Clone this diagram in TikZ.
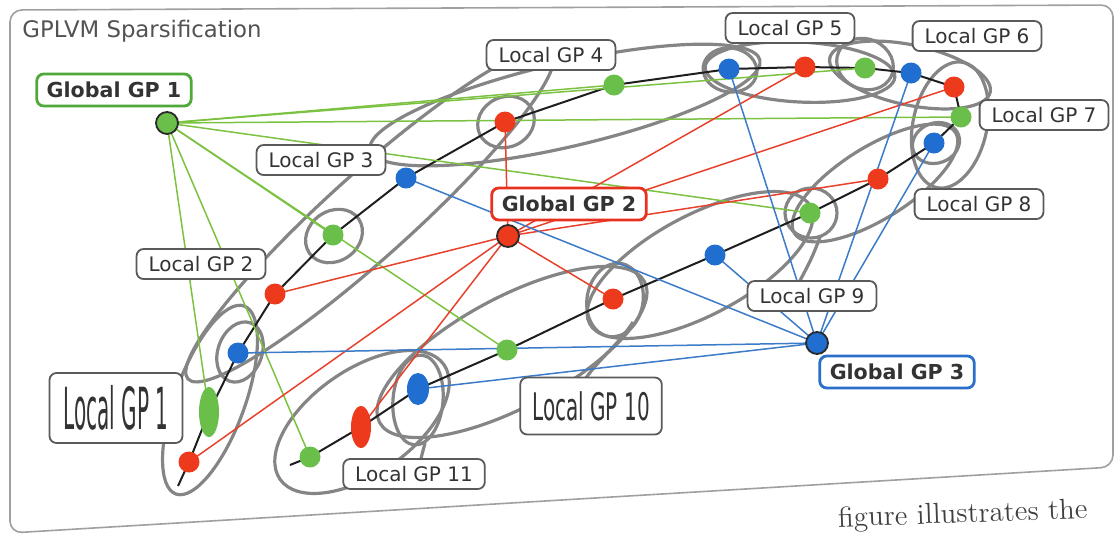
\documentclass[tikz,border=0pt]{standalone}
\usepackage{fontspec}
\usepackage{graphicx}
\newfontfamily\dejavu{DejaVu Sans}
\usetikzlibrary{shapes.geometric}
\definecolor{ngreen}{HTML}{6ABF4B}
\definecolor{nred}{HTML}{EE3A1C}
\definecolor{nblue}{HTML}{1F6ED0}
\definecolor{egreen}{HTML}{7CC242}
\definecolor{ered}{HTML}{E8412C}
\definecolor{eblue}{HTML}{3B7BC8}
\definecolor{ellgray}{HTML}{858585}
\definecolor{lblborder}{HTML}{5A5A5A}
\definecolor{txt}{HTML}{333333}
\definecolor{framec}{HTML}{A0A0A0}
\definecolor{chainc}{HTML}{1E1E1E}
\definecolor{gbgreen}{HTML}{4FA83A}
\definecolor{gbred}{HTML}{E8321E}
\definecolor{gbblue}{HTML}{2A6FC9}
\definecolor{darkring}{HTML}{2A2A2A}
\begin{document}
\begin{tikzpicture}[x=0.5pt,y=-0.5pt,
  lgp/.style={draw=ellgray, line width=1.6pt},
  lbl/.style={draw=lblborder, line width=0.9pt, fill=white, rounded corners=3.5pt,
    font=\dejavu\fontsize{10}{12}\selectfont, text=txt, inner xsep=6pt, inner ysep=0pt,
    minimum height=15pt},
  glbl/.style={lbl, line width=1.4pt, font=\dejavu\bfseries\fontsize{10.3}{12}\selectfont,
    minimum height=16pt, inner xsep=5pt},
  chainline/.style={draw=chainc, line width=1pt},
  eg/.style={draw=egreen, line width=0.75pt},
  er/.style={draw=ered, line width=0.75pt},
  eb/.style={draw=eblue, line width=0.75pt},
  dot/.style={circle, inner sep=0pt, minimum size=10.5pt},
  edot/.style={ellipse, inner sep=0pt},
  gdot/.style={circle, inner sep=0pt, minimum size=11pt, draw=darkring, line width=0.9pt}
]
\useasboundingbox (0,0) rectangle (1117,537);
% frame
\draw[framec, line width=0.8pt, rounded corners=6pt] (10,10) -- (1113,5) -- (1113,467) -- (10,533) -- cycle;
\node[anchor=base west, font=\dejavu\fontsize{11.4}{13}\selectfont, text=black!68, inner sep=0pt] (title) at (22,37) {GPLVM Sparsification};
\node[anchor=base west, font=\fontsize{14.5}{17}\selectfont, text=black!75, inner sep=0pt, rotate=2] (pagetext) at (838,527) {figure illustrates the};

% chain coordinates
\coordinate (s0) at (178,486);
\coordinate (r1) at (189,462);
\coordinate (g1) at (209,412);
\coordinate (b1) at (238,353);
\coordinate (r2) at (275,294);
\coordinate (g2) at (333,235);
\coordinate (b2) at (406,178);
\coordinate (r3) at (505,122);
\coordinate (g3) at (614,85);
\coordinate (b3) at (729,69);
\coordinate (r4) at (805,67);
\coordinate (g4) at (865,68);
\coordinate (b4) at (911,73);
\coordinate (r5) at (954,87);
\coordinate (g5) at (961,117);
\coordinate (b5) at (934,143);
\coordinate (r6) at (878,179);
\coordinate (g6) at (810,213);
\coordinate (b6) at (715,255);
\coordinate (r7) at (613,299);
\coordinate (g7) at (507,350);
\coordinate (b7) at (418,389);
\coordinate (r8) at (361,427);
\coordinate (g8) at (310,457);
\coordinate (s1) at (290,465);
\coordinate (GA) at (167,123);
\coordinate (GB) at (508,236);
\coordinate (GC) at (817,343);

% gray local GP regions
\draw[lgp, rotate around={42:(370,215)}] (370,215) ellipse [x radius=245, y radius=42];
\draw[lgp, rotate around={70:(210,400)}] (210,400) ellipse [x radius=100, y radius=35];
\draw[lgp, rotate around={70:(240,352)}] (240,352) ellipse [x radius=31, y radius=22];
\draw[lgp, rotate around={35:(334,236)}] (334,236) ellipse [x radius=30, y radius=25];
\draw[lgp, rotate around={25:(506,122)}] (506,122) ellipse [x radius=29, y radius=25];
\draw[lgp, rotate around={13:(565,105)}] (565,105) ellipse [x radius=200, y radius=42];
\draw[lgp, rotate around={-8:(730,70)}] (730,70) ellipse [x radius=27, y radius=22];
\draw[lgp, rotate around={-3:(800,72)}] (800,72) ellipse [x radius=95, y radius=30];
\draw[lgp, rotate around={-25:(865,64)}] (865,64) ellipse [x radius=29, y radius=25];
\draw[lgp, rotate around={-12:(910,75)}] (910,75) ellipse [x radius=82, y radius=30];
\draw[lgp, rotate around={78:(950,125)}] (950,125) ellipse [x radius=64, y radius=37];
\draw[lgp, rotate around={20:(936,143)}] (936,143) ellipse [x radius=24, y radius=20];
\draw[lgp, rotate around={32:(875,183)}] (875,183) ellipse [x radius=95, y radius=36];
\draw[lgp] (811,213) ellipse [x radius=26, y radius=25];
\draw[lgp, rotate around={28:(700,265)}] (700,265) ellipse [x radius=125, y radius=50];
\draw[lgp, rotate around={80:(615,300)}] (615,300) ellipse [x radius=37, y radius=28];
\draw[lgp, rotate around={28:(512,352)}] (512,352) ellipse [x radius=150, y radius=55];
\draw[lgp, rotate around={85:(418,400)}] (418,400) ellipse [x radius=45, y radius=25];
\draw[lgp, rotate around={35:(362,422)}] (362,422) ellipse [x radius=100, y radius=52];
% tails
\coordinate (t8a) at (633,322);
\coordinate (t8b) at (578,392);
\draw[lgp] (t8a) .. controls (615,350) and (590,365) .. (t8b);
\coordinate (t7a) at (820,237);
\coordinate (t7b) at (795,290);
\draw[lgp] (t7a) .. controls (812,258) .. (t7b);
\coordinate (t9a) at (425,443);
\coordinate (t9b) at (418,470);
\draw[lgp] (t9a) -- (t9b);

% chain
\draw[chainline] (s0) -- (r1) -- (g1) -- (b1) -- (r2) -- (g2) -- (b2) -- (r3) -- (g3) -- (b3)
  -- (r4) -- (g4) -- (b4) -- (r5) -- (g5) -- (b5) -- (r6) -- (g6) -- (b6) -- (r7) -- (g7)
  -- (b7) -- (r8) -- (g8) -- (s1);

% global edges
\foreach \p in {g1,g2,g3,g4,g5,g6,g7,g8} \draw[eg] (GA) -- (\p);
\foreach \p in {r1,r2,r3,r4,r5,r6,r7,r8} \draw[er] (GB) -- (\p);
\foreach \p in {b1,b2,b3,b4,b5,b6,b7} \draw[eb] (GC) -- (\p);

% chain nodes
\node[dot, fill=nred] (R1) at (r1) {};
\node[edot, fill=ngreen, minimum width=10pt, minimum height=25pt] (G1) at (g1) {};
\node[dot, fill=nblue] (B1) at (b1) {};
\node[dot, fill=nred] (R2) at (r2) {};
\node[dot, fill=ngreen] (G2) at (g2) {};
\node[dot, fill=nblue] (B2) at (b2) {};
\node[dot, fill=nred] (R3) at (r3) {};
\node[dot, fill=ngreen] (G3) at (g3) {};
\node[dot, fill=nblue] (B3) at (b3) {};
\node[dot, fill=nred] (R4) at (r4) {};
\node[dot, fill=ngreen] (G4) at (g4) {};
\node[dot, fill=nblue] (B4) at (b4) {};
\node[dot, fill=nred] (R5) at (r5) {};
\node[dot, fill=ngreen] (G5) at (g5) {};
\node[dot, fill=nblue] (B5) at (b5) {};
\node[dot, fill=nred] (R6) at (r6) {};
\node[dot, fill=ngreen] (G6) at (g6) {};
\node[dot, fill=nblue] (B6) at (b6) {};
\node[dot, fill=nred] (R7) at (r7) {};
\node[dot, fill=ngreen] (G7) at (g7) {};
\node[edot, fill=nblue, minimum width=11pt, minimum height=16pt] (B7) at (b7) {};
\node[edot, fill=nred, minimum width=10pt, minimum height=21pt] (R8) at (r8) {};
\node[dot, fill=ngreen] (G8) at (g8) {};
% global nodes
\node[gdot, fill=ngreen] (GGA) at (GA) {};
\node[gdot, fill=nred] (GGB) at (GB) {};
\node[gdot, fill=nblue] (GGC) at (GC) {};

% labels
\node[glbl, draw=gbgreen] (LG1) at (114,90) {Global GP 1};
\node[glbl, draw=gbred] (LG2) at (569,204) {Global GP 2};
\node[glbl, draw=gbblue] (LG3) at (897,372) {Global GP 3};
\node[lbl, minimum height=35pt, minimum width=66.5pt] (L1) at (116,408) {\scalebox{1}[2.9]{Local GP 1}};
\node[lbl] (L2) at (201,264) {Local GP 2};
\node[lbl] (L3) at (321,160) {Local GP 3};
\node[lbl] (L4) at (551,55) {Local GP 4};
\node[lbl] (L5) at (790,28) {Local GP 5};
\node[lbl] (L6) at (977,36) {Local GP 6};
\node[lbl] (L7) at (1044,115) {Local GP 7};
\node[lbl] (L8) at (979,204) {Local GP 8};
\node[lbl] (L9) at (812,296) {Local GP 9};
\node[lbl, minimum height=28.5pt] (L10) at (591,406) {\scalebox{1}[1.9]{Local GP 10}};
\node[lbl] (L11) at (414,474) {Local GP 11};
\end{tikzpicture}
\end{document}
